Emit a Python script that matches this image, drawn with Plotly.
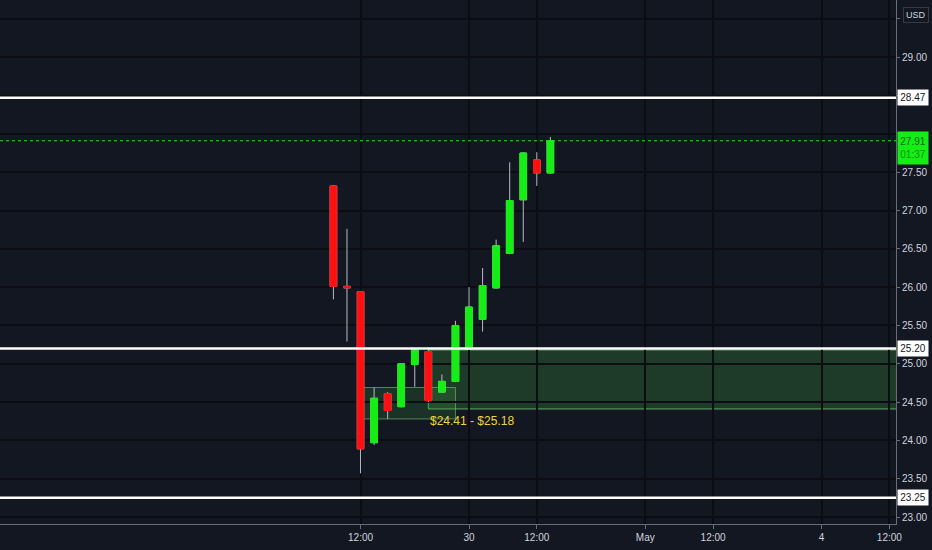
import plotly.graph_objects as go

# hourly bars, index 0 = Apr 29 12:00
bar_idx = [-2, -1, 0, 1, 2, 3, 4, 5, 6, 7, 8, 9, 10, 11, 12, 13, 14]
opens = [27.32, 26.01, 25.94, 23.97, 24.61, 24.44, 24.99, 25.16, 24.63, 24.77, 25.19, 25.58, 25.99, 26.44, 27.14, 27.66, 27.49]
highs = [27.33, 26.76, 25.95, 24.69, 24.63, 25.01, 25.19, 25.18, 24.86, 25.56, 26.00, 26.25, 26.62, 27.63, 27.76, 27.76, 27.96]
lows = [25.84, 25.29, 23.57, 23.94, 24.28, 24.43, 24.70, 24.50, 24.62, 24.76, 25.18, 25.42, 25.98, 26.43, 26.59, 27.32, 27.48]
closes = [26.01, 25.99, 23.89, 24.55, 24.39, 25.00, 25.18, 24.52, 24.77, 25.50, 25.74, 26.02, 26.54, 27.13, 27.75, 27.49, 27.91]

tick_idx = [0, 8, 13, 21, 26, 34, 39]
tick_text = ["12:00", "30", "12:00", "May", "12:00", "4", "12:00"]

# price scale; 28.50 / 28.00 sit under the price tags, so no label there
price_ticks = [23.0, 23.5, 24.0, 24.5, 25.0, 25.5, 26.0, 26.5, 27.0, 27.5, 28.0, 28.5, 29.0, 29.5]
price_text = ["23.00", "23.50", "24.00", "24.50", "25.00", "25.50", "26.00", "26.50",
              "27.00", "27.50", "", "", "29.00", ""]

levels = [28.47, 25.20, 23.25]
last_price = 27.91
countdown = "01:37"

# demand zones
small_zone = [0, 7, 24.28, 24.69]
zone_start = 5
zone_low, zone_high = 24.41, 25.18

BG = "#131722"
GRID = "#0b0d13"
TXT = "#d1d4dc"
UP = "#14ee14"
DOWN = "#ff1010"
FONT = "Liberation Sans, Arial, sans-serif"

fig = go.Figure()

# wicks (grey) drawn first
fig.add_trace(go.Candlestick(
    x=bar_idx, open=opens, high=highs, low=lows, close=closes,
    increasing=dict(line=dict(color="#b8bbc4", width=1), fillcolor="#b8bbc4"),
    decreasing=dict(line=dict(color="#b8bbc4", width=1), fillcolor="#b8bbc4"),
    hoverinfo="skip", showlegend=False
))

# coloured bodies on top
body_hi = [max(o, c) for o, c in zip(opens, closes)]
body_lo = [min(o, c) for o, c in zip(opens, closes)]
fig.add_trace(go.Candlestick(
    x=bar_idx, open=opens, high=body_hi, low=body_lo, close=closes,
    increasing=dict(line=dict(color=UP, width=1), fillcolor=UP),
    decreasing=dict(line=dict(color=DOWN, width=1), fillcolor=DOWN),
    hoverinfo="skip", showlegend=False
))

shapes = []
# zones
shapes.append(dict(type="rect", xref="x", yref="y", x0=zone_start, x1=60,
                   y0=zone_low, y1=zone_high, layer="below",
                   fillcolor="rgba(60,150,60,0.28)",
                   line=dict(color="rgba(120,210,120,0.75)", width=1)))
shapes.append(dict(type="rect", xref="x", yref="y", x0=small_zone[0], x1=small_zone[1],
                   y0=small_zone[2], y1=small_zone[3], layer="below",
                   fillcolor="rgba(60,150,60,0.22)",
                   line=dict(color="rgba(120,200,120,0.6)", width=1)))
# horizontal levels
for lv in levels:
    shapes.append(dict(type="line", xref="paper", yref="y", x0=0, x1=1, y0=lv, y1=lv,
                       line=dict(color="white", width=2.5), layer="above"))
# current price line
shapes.append(dict(type="line", xref="paper", yref="y", x0=0, x1=1,
                   y0=last_price, y1=last_price,
                   line=dict(color=UP, width=1, dash="dot"), layer="above"))

annotations = []
for lv in levels:
    annotations.append(dict(xref="paper", yref="y", x=1, y=lv, xanchor="left", xshift=1,
                            text=f"{lv:.2f}", showarrow=False, bgcolor="white",
                            width=30, height=15, borderpad=0,
                            font=dict(family=FONT, size=10, color="#131722")))
annotations.append(dict(xref="paper", yref="y", x=1, y=last_price, xanchor="left", xshift=1,
                        yanchor="top", yshift=10,
                        text=f"{last_price:.2f}<br><span style='color:#0a8f0a'>{countdown}</span>",
                        showarrow=False, bgcolor=UP, width=30, height=32, borderpad=0,
                        font=dict(family=FONT, size=10, color="#0b5e0b")))
annotations.append(dict(xref="paper", yref="paper", x=1, y=1, xanchor="left", yanchor="top",
                        xshift=7, yshift=-7, text="USD", showarrow=False,
                        bordercolor="#363a45", borderwidth=1, borderpad=2, bgcolor=BG,
                        font=dict(family=FONT, size=9, color=TXT)))
annotations.append(dict(xref="x", yref="y", x=zone_start, y=zone_low, xanchor="left",
                        yanchor="top", yshift=-3, showarrow=False,
                        text=f"${zone_low:.2f} - ${zone_high:.2f}",
                        font=dict(family=FONT, size=12, color="#f0d43a")))

fig.update_layout(
    width=932, height=550,
    margin=dict(l=0, r=36, t=0, b=26),
    paper_bgcolor=BG, plot_bgcolor=BG,
    font=dict(family=FONT, size=10, color=TXT),
    showlegend=False,
    shapes=shapes, annotations=annotations,
    xaxis=dict(
        range=[-26.59, 39.49], rangeslider=dict(visible=False),
        tickvals=tick_idx, ticktext=tick_text,
        showgrid=True, gridcolor=GRID, gridwidth=1.5, zeroline=False,
        ticks="outside", ticklen=4, tickcolor="#6a6d78",
        showline=True, linecolor="#6a6d78", linewidth=1,
        tickfont=dict(family=FONT, size=10, color=TXT),
    ),
    yaxis=dict(
        side="right", range=[22.909, 29.747],
        tickvals=price_ticks, ticktext=price_text,
        showgrid=True, gridcolor=GRID, gridwidth=1.5, zeroline=False,
        ticks="outside", ticklen=3, tickcolor="#6a6d78",
        showline=True, linecolor="#6a6d78", linewidth=1,
        tickfont=dict(family=FONT, size=10, color=TXT),
    ),
)

# drop the default page margin so the figure sits at the window corner
fig.write_html("out.html", config={"displayModeBar": False},
               post_script="document.body.style.margin='0';")
